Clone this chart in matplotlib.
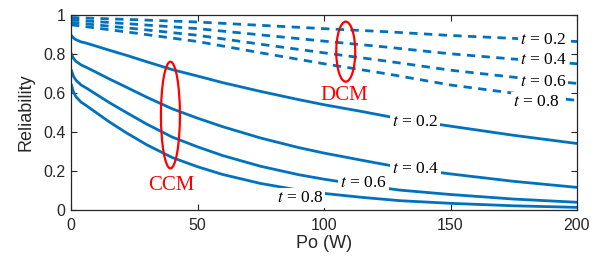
import numpy as np
import matplotlib
matplotlib.use("Agg")
import matplotlib.pyplot as plt
from matplotlib.patches import Ellipse

plt.rcParams["mathtext.fontset"] = "stix"

# ---- data ----
po_ccm = [0, 1, 2, 4, 6, 10, 15, 22, 30, 40, 50, 60, 75, 90, 100, 115, 130, 150, 175, 200]
ccm_t02 = [0.897, 0.882, 0.873, 0.862, 0.856, 0.840, 0.820, 0.793, 0.760, 0.720, 0.687, 0.653,
           0.608, 0.566, 0.540, 0.505, 0.468, 0.430, 0.383, 0.341]
ccm_t04 = [0.804, 0.777, 0.762, 0.744, 0.732, 0.706, 0.673, 0.629, 0.578, 0.519, 0.471, 0.427,
           0.369, 0.320, 0.292, 0.255, 0.219, 0.185, 0.147, 0.116]
ccm_t06 = [0.721, 0.685, 0.665, 0.641, 0.626, 0.593, 0.552, 0.499, 0.440, 0.374, 0.324, 0.279,
           0.224, 0.181, 0.158, 0.128, 0.102, 0.0795, 0.0561, 0.0396]
ccm_t08 = [0.647, 0.604, 0.580, 0.553, 0.536, 0.499, 0.453, 0.395, 0.334, 0.269, 0.222, 0.182,
           0.136, 0.102, 0.085, 0.0648, 0.0478, 0.0342, 0.0215, 0.0135]

po_dcm = [0, 25, 50, 75, 100, 125, 150, 175, 200]
dcm_t02 = [0.987, 0.976, 0.964, 0.947, 0.930, 0.914, 0.895, 0.880, 0.864]
dcm_t04 = [0.975, 0.953, 0.930, 0.898, 0.866, 0.835, 0.801, 0.774, 0.750]
dcm_t06 = [0.962, 0.930, 0.896, 0.850, 0.806, 0.763, 0.717, 0.681, 0.649]
dcm_t08 = [0.950, 0.908, 0.864, 0.806, 0.750, 0.698, 0.641, 0.599, 0.562]

t_labels = ["0.2", "0.4", "0.6", "0.8"]
ccm_label_pos = [(136.1, 0.451), (136.1, 0.208), (115.7, 0.137), (90.4, 0.062)]
dcm_label_pos = [(186.5, 0.872), (186.8, 0.767), (186.5, 0.658), (184.0, 0.555)]

xticks = [0, 50, 100, 150, 200]
yticks = [0, 0.2, 0.4, 0.6, 0.8, 1]
ytick_labels = ["0", "0.2", "0.4", "0.6", "0.8", "1"]

# ---- plot ----
blue = "#0072BD"
dark = "#262626"
sans = ["Liberation Sans", "DejaVu Sans"]
serif = ["Liberation Serif", "DejaVu Serif"]

fig = plt.figure(figsize=(6.03, 2.56), dpi=100)
ax = fig.add_axes([71/603, 46/256, 506/603, 195/256])

for ys in (ccm_t02, ccm_t04, ccm_t06, ccm_t08):
    ax.plot(po_ccm, ys, color=blue, lw=2.0, solid_capstyle="butt", solid_joinstyle="round", zorder=2)
for ys in (dcm_t02, dcm_t04, dcm_t06, dcm_t08):
    ax.plot(po_dcm, ys, color=blue, lw=2.0, dashes=(3.0, 2.3), dash_capstyle="butt", zorder=2)

bbox = dict(facecolor="white", edgecolor="none", pad=1.5)
for lab, (x, y) in zip(t_labels, ccm_label_pos):
    ax.text(x, y, r"$t$ = " + lab, family=serif, fontsize=12.5, ha="center", va="center",
            bbox=bbox, zorder=3, color="black")
for lab, (x, y) in zip(t_labels, dcm_label_pos):
    ax.text(x, y, r"$t$ = " + lab, family=serif, fontsize=12.5, ha="center", va="center",
            bbox=bbox, zorder=3, color="black")

ax.add_patch(Ellipse((39.3, 0.487), 7.5, 0.547, fill=False, edgecolor="red", lw=1.6, zorder=4))
ax.add_patch(Ellipse((108.6, 0.812), 7.5, 0.308, fill=False, edgecolor="red", lw=1.6, zorder=4))
ax.text(39.7, 0.10, "CCM", family=serif, fontsize=15, color="red", ha="center", va="baseline")
ax.text(108.0, 0.564, "DCM", family=serif, fontsize=15, color="red", ha="center", va="baseline")

ax.set_xlim(0, 200)
ax.set_ylim(0, 1)
ax.set_xticks(xticks)
ax.set_yticks(yticks)
ax.set_yticklabels(ytick_labels)
ax.tick_params(direction="in", top=True, right=True, length=4, width=0.8, colors=dark,
               labelsize=11.5)
ax.tick_params(axis="x", pad=6)
ax.tick_params(axis="y", pad=4)
for lab in ax.get_xticklabels() + ax.get_yticklabels():
    lab.set_family(sans)
for s in ax.spines.values():
    s.set_color(dark)
    s.set_linewidth(0.9)

ax.set_xlabel("Po (W)", family=sans, fontsize=13, color=dark, labelpad=1)
ax.set_ylabel("Reliability", family=sans, fontsize=13, color=dark, labelpad=6)

fig.savefig("out.png", dpi=100)
